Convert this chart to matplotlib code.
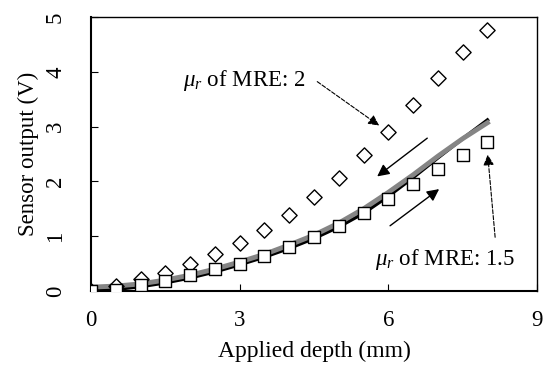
import matplotlib
matplotlib.use('Agg')
from matplotlib import pyplot as plt

plt.rcParams['font.family'] = ['Liberation Serif', 'DejaVu Serif']
plt.rcParams['mathtext.fontset'] = 'custom'
plt.rcParams['mathtext.it'] = 'Liberation Serif:italic'
plt.rcParams['mathtext.rm'] = 'Liberation Serif'

# measured points
depth_pts = [0, 0.5, 1, 1.5, 2, 2.5, 3, 3.5, 4, 4.5, 5, 5.5, 6, 6.5, 7, 7.5, 8]
mre2 = [0, 0.09, 0.21, 0.33, 0.50, 0.67, 0.88, 1.11, 1.39, 1.71, 2.07, 2.48, 2.91, 3.39, 3.89, 4.36, 4.76]
mre15 = [0, 0.02, 0.11, 0.19, 0.29, 0.40, 0.50, 0.64, 0.80, 0.98, 1.19, 1.42, 1.67, 1.95, 2.22, 2.49, 2.71]

# continuous sensor curves
depth_line = [0, 0.5, 1, 1.5, 2, 2.5, 3, 3.5, 4, 4.5, 5, 5.5, 6, 6.5, 7, 7.5, 8]
out_black = [0, 0.03, 0.08, 0.15, 0.24, 0.35, 0.48, 0.62, 0.78, 0.96, 1.17, 1.42, 1.73, 2.07, 2.43, 2.78, 3.12]
out_gray = [0.07, 0.09, 0.13, 0.20, 0.29, 0.40, 0.53, 0.67, 0.84, 1.02, 1.24, 1.50, 1.80, 2.12, 2.46, 2.78, 3.07]

fig = plt.figure(figsize=(5.49, 3.65), dpi=100)
ax = fig.add_axes([91/549, 1 - 291/365, 446/549, 274/365])

ax.plot(depth_line, out_black, c='black', lw=2.5, zorder=2)
ax.plot(depth_line, out_gray, c='#858585', lw=3.5, zorder=3)
ax.scatter(depth_pts, mre2, marker='D', s=60, facecolor='white', edgecolor='black', lw=1, zorder=4)
ax.scatter(depth_pts, mre15, marker='s', s=85, facecolor='white', edgecolor='black', lw=1, zorder=4)

ax.text(1.85, 3.85, r'$\mu_r$ of MRE: 2', fontsize=16.5, va='center', ha='left')
ax.annotate('', xy=(5.86, 2.99), xytext=(4.52, 3.85),
            arrowprops=dict(arrowstyle='-|>', ls='--', color='black', lw=0.8, mutation_scale=16))
ax.text(5.73, 0.57, r'$\mu_r$ of MRE: 1.5', fontsize=16.5, va='center', ha='left')
ax.annotate('', xy=(8.0, 2.54), xytext=(8.16, 0.93),
            arrowprops=dict(arrowstyle='-|>', ls='--', color='black', lw=0.8, mutation_scale=16))
ax.annotate('', xy=(5.73, 2.06), xytext=(6.83, 2.82),
            arrowprops=dict(arrowstyle='-|>', color='black', lw=1, mutation_scale=18))
ax.annotate('', xy=(7.07, 1.89), xytext=(5.99, 1.16),
            arrowprops=dict(arrowstyle='-|>', color='black', lw=1, mutation_scale=18))

ax.set_xlim(0, 9)
ax.set_ylim(0, 5)
ax.set_xticks([0, 3, 6, 9])
ax.set_yticks([0, 1, 2, 3, 4, 5])
ax.tick_params(direction='in', length=5, labelsize=16.5, top=False, right=False)
ax.tick_params(axis='x', pad=14)
ax.tick_params(axis='y', pad=18)
plt.setp(ax.get_yticklabels(), rotation=90, va='center')
for s in ax.spines.values():
    s.set_linewidth(1)
ax.spines['left'].set_linewidth(1.5)
ax.spines['bottom'].set_linewidth(1.5)

ax.set_xlabel('Applied depth (mm)', fontsize=17, labelpad=7)
ax.set_ylabel('Sensor output (V)', fontsize=16.5, labelpad=4)

fig.savefig('out.png', dpi=100)
